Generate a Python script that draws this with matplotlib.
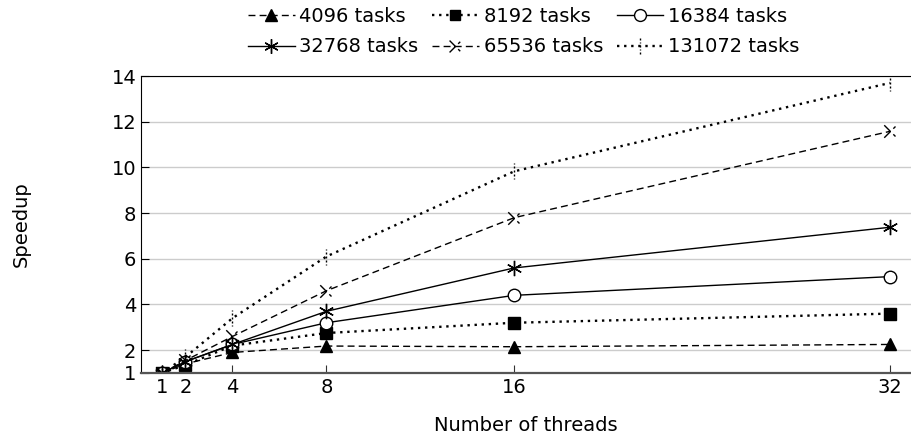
import numpy as np
import matplotlib
matplotlib.use("Agg")
import matplotlib.pyplot as plt
from matplotlib.path import Path

plt.rcParams['font.family'] = ['DejaVu Sans']

# data
threads = [1, 2, 4, 8, 16, 32]
labels = ["4096 tasks", "8192 tasks", "16384 tasks",
          "32768 tasks", "65536 tasks", "131072 tasks"]
s4096 = [1.0, 1.4, 1.9, 2.18, 2.15, 2.25]
s8192 = [1.0, 1.35, 2.2, 2.75, 3.2, 3.6]
s16384 = [1.0, 1.5, 2.25, 3.2, 4.4, 5.22]
s32768 = [1.0, 1.5, 2.25, 3.7, 5.6, 7.38]
s65536 = [1.0, 1.55, 2.6, 4.6, 7.8, 11.58]
s131072 = [1.0, 1.7, 3.4, 6.1, 9.83, 13.7]
yticks = [1, 2, 4, 6, 8, 10, 12, 14]

# "x" mark drawn with the dashed line pattern -> looks like ">" plus dots
dash_x = Path(
    [(-1, -1), (0, 0), (0.45, 0.45), (0.8, 0.8),
     (-1, 1), (0, 0), (0.45, -0.45), (0.8, -0.8)],
    [Path.MOVETO, Path.LINETO, Path.MOVETO, Path.LINETO,
     Path.MOVETO, Path.LINETO, Path.MOVETO, Path.LINETO])
# "|" mark drawn dotted
dot_bar = Path(
    [(0, -1), (0, -0.8), (0, -0.55), (0, -0.35), (0, -0.1), (0, 0.1),
     (0, 0.35), (0, 0.55), (0, 0.8), (0, 1)],
    [Path.MOVETO, Path.LINETO] * 5)

styles = [
    dict(ls=(0, (5, 3)), marker='^', mfc='black', ms=9),
    dict(ls=(0, (1, 2)), lw=1.7, marker='s', mfc='black', ms=8),
    dict(ls='-', marker='o', mfc='white', ms=9),
    dict(ls='-', marker=(6, 2, 0), mfc='black', ms=11),
    dict(ls=(0, (5, 3)), marker=dash_x, mfc='none', ms=9),
    dict(ls=(0, (1, 2)), lw=1.7, marker=dot_bar, mfc='none', ms=12),
]
series = [s4096, s8192, s16384, s32768, s65536, s131072]

fig = plt.figure(figsize=(9.11, 4.36), dpi=100)
ax = fig.add_axes([0.1548, 0.1445, 0.8452, 0.681])

handles = []
for ys, lab, st in zip(series, labels, styles):
    st = dict(st)
    lw = st.pop('lw', 1.0)
    h, = ax.plot(threads, ys, color='black', lw=lw, mec='black',
                 mew=1.0, label=lab, **st)
    handles.append(h)

ax.set_xlim(0.106, 32.9)
ax.set_ylim(1, 14)
ax.set_xticks(threads)
ax.set_yticks(yticks)
ax.tick_params(labelsize=14, direction='in', length=6, width=0.8)
ax.tick_params(axis='x', colors='#333333', labelcolor='black')
ax.grid(axis='y', color='#cccccc', lw=1.0)
ax.set_axisbelow(True)
ax.spines['right'].set_visible(False)
ax.spines['bottom'].set_color('#555555')
ax.spines['bottom'].set_linewidth(1.6)

ax.set_xlabel("Number of threads", fontsize=14, labelpad=14)
ax.set_ylabel("Speedup", fontsize=14, labelpad=58)

order = [0, 3, 1, 4, 2, 5]
ax.legend([handles[i] for i in order], [labels[i] for i in order],
          ncol=3, loc='lower center', bbox_to_anchor=(0.497, 1.04),
          frameon=False, fontsize=14, handlelength=2.4, handletextpad=0.25,
          columnspacing=0.7, labelspacing=0.6, borderaxespad=0.0,
          markerscale=0.95)

fig.savefig("out.png", dpi=100)
